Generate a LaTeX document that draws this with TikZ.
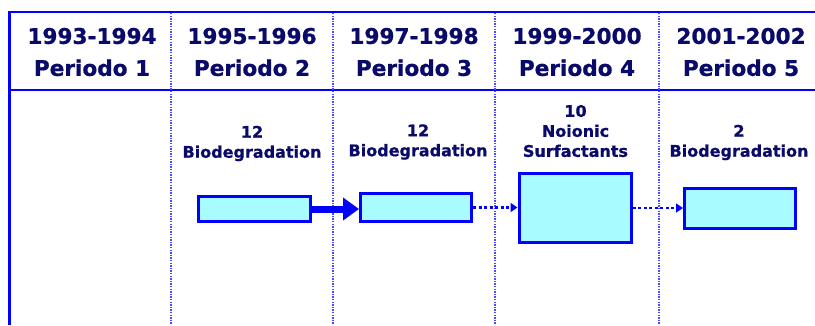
\documentclass[tikz,border=0pt]{standalone}
\usepackage{fontspec}
\setmainfont{DejaVu Sans}[BoldFeatures={FakeBold=0.8}]
\usetikzlibrary{arrows.meta}
\definecolor{navy}{HTML}{0A0A6B}
\definecolor{rule}{HTML}{0000FF}
\definecolor{boxfill}{HTML}{A8FCFF}
\begin{document}
\begin{tikzpicture}[x=1pt,y=-1pt,
  frame/.style={draw=rule, line width=2.5pt},
  divider/.style={draw=rule!70, line width=2pt, dash pattern=on 1.3pt off 1.3pt},
  period/.style={inner sep=0pt, align=center, text=navy, font=\fontsize{21.6}{32}\selectfont\bfseries},
  topic/.style={inner sep=0pt, align=center, text=navy, font=\fontsize{16}{20}\selectfont\bfseries},
  stage/.style={draw=rule, fill=boxfill, line width=3pt, inner sep=0pt},
  bigflow/.style={draw=rule, line width=7pt, -{Triangle[length=16pt,width=22pt]}},
  dotflow/.style={draw=rule, line width=2.6pt, dash pattern=on 3pt off 2.5pt, -{Triangle[length=7pt,width=9pt]}}
]
\useasboundingbox (0,0) rectangle (815,325);

% table frame
\draw[frame] (9.5,325) -- (9.5,12) -- (815,12);
\draw[frame] (9.5,90) -- (815,90);
\foreach \x in {171,333,495,659}
  \draw[divider] (\x,13) -- (\x,325);

% period headers
\node[period] (p1) at (92,52)  {1993-1994\\Periodo 1};
\node[period] (p2) at (252,52) {1995-1996\\Periodo 2};
\node[period] (p3) at (414,52) {1997-1998\\Periodo 3};
\node[period] (p4) at (577,52) {1999-2000\\Periodo 4};
\node[period] (p5) at (741,52) {2001-2002\\Periodo 5};

% stages
\node[stage, minimum width=112pt, minimum height=25pt] (s1) at (254,209) {};
\node[stage, minimum width=111pt, minimum height=28pt] (s2) at (416,207.5) {};
\node[stage, minimum width=112pt, minimum height=69pt] (s3) at (575,208) {};
\node[stage, minimum width=111pt, minimum height=40pt] (s4) at (740,208) {};

% stage labels
\node[topic] (t1) at (252,143.5) {12\\Biodegradation};
\node[topic] (t2) at (418,142) {12\\Biodegradation};
\node[topic] (t3) at (575.5,131) {10\\Noionic\\Surfactants};
\node[topic] (t4) at (739,142.5) {2\\Biodegradation};

% flows
\draw[bigflow] (s1.east) -- (s2.west |- s1.east);
\draw[dotflow] (s2.east) -- (s3.west |- s2.east);
\draw[dotflow] (s3.east) -- (s4.west);
\end{tikzpicture}
\end{document}
